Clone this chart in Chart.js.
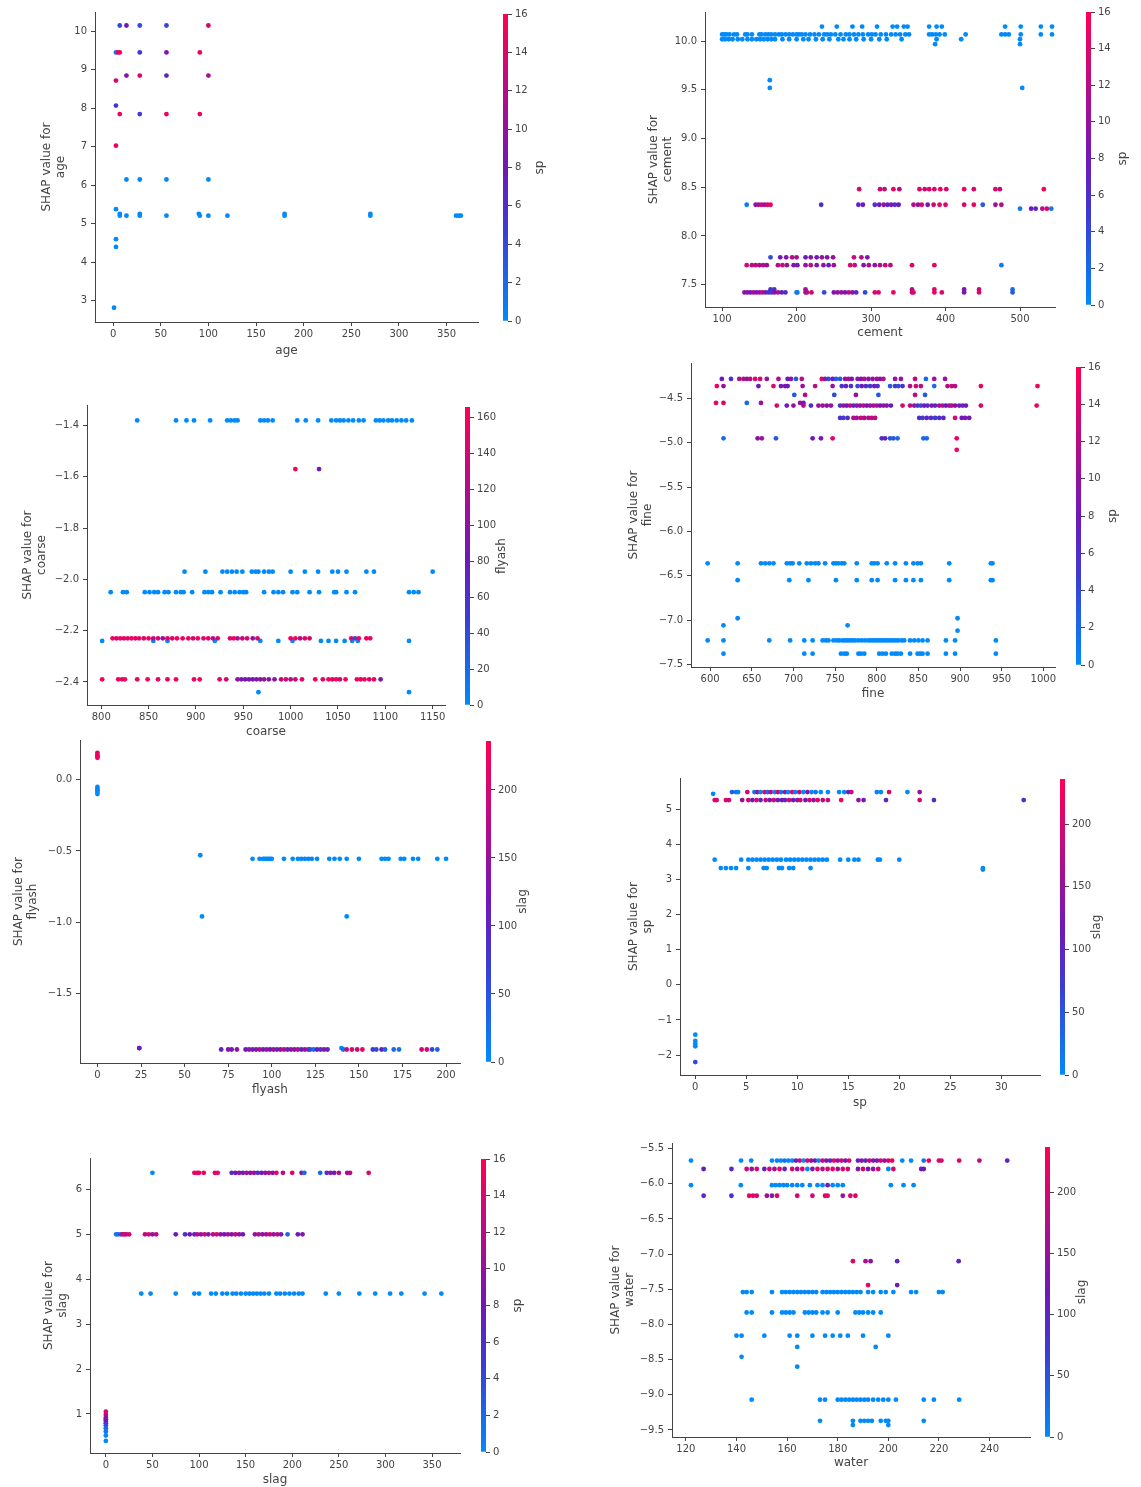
<!DOCTYPE html>
<html>
<head>
<meta charset="utf-8">
<script src="https://cdn.jsdelivr.net/npm/chart.js@4.4.0/dist/chart.umd.min.js"></script>
<style>
body { margin: 0; background: #fff; width: 1141px; height: 1487px; position: relative; overflow: hidden; }
canvas { position: absolute; }
</style>
</head>
<body>
<script>
// each row: [shap value, [feature values], colour value (one number or one per point)]
const ageRows = [
    [10.15, [7, 14, 28, 56, 100], [4, 8, 4, 4, 14]],
    [9.45, [3, 5, 7, 28, 56, 91], [1, 14, 15, 5, 9, 15]],
    [8.85, [14, 28, 56, 100], [9, 14, 7, 11]],
    [8.72, [3], 14],
    [8.07, [3], 5],
    [7.85, [7, 28, 56, 91], [15, 5, 15, 15]],
    [7.03, [3], 15],
    [6.15, [14, 28, 56, 100], 0],
    [5.38, [3], 0],
    [5.26, [7, 28, 90, 180, 270], 0],
    [5.21, [7, 14, 28, 56, 91, 100, 120, 180, 270, 360, 363, 365], 0],
    [4.6, [3], 0],
    [4.4, [3], 0],
    [2.82, [1], 0]
];

const cementRows = [
    [10.15, [234, 254, 275, 288, 308, 329, 335, 344, 349, 378, 388, 395, 480, 501, 528, 543], 0],
    [10.07, [100, 103, 106, 110, 116, 120, 131, 134, 140, 150, 153, 158, 162, 166, 171, 176, 180, 185, 190, 195, 200, 203, 207, 212, 218, 224, 230, 237, 241, 246, 252, 259, 266, 271, 277, 283, 289, 296, 301, 306, 313, 320, 327, 333, 339, 346, 351, 378, 382, 387, 392, 399, 427, 475, 480, 485, 501, 528, 543], 0],
    [10.02, [100, 104, 109, 114, 121, 127, 134, 140, 146, 151, 156, 161, 166, 171, 181, 190, 200, 209, 216, 226, 235, 244, 256, 263, 271, 280, 290, 300, 311, 321, 341, 388, 421, 500], 0],
    [9.97, [386, 500], 0],
    [9.6, [164], 0],
    [9.52, [164, 503], 0],
    [8.48, [284, 312, 318, 330, 338, 365, 372, 378, 385, 393, 401, 425, 438, 467, 473, 532], [14, 13, 13, 15, 12, 14, 13, 15, 14, 15, 14, 15, 14, 14, 13, 16]],
    [8.32, [133, 145, 149, 153, 157, 161, 165, 233, 283, 289, 305, 311, 317, 322, 327, 332, 337, 357, 363, 368, 376, 384, 392, 400, 425, 438, 450, 467, 475], [1, 9, 11, 13, 10, 14, 15, 6, 7, 8, 6, 8, 10, 7, 9, 6, 8, 12, 10, 14, 8, 13, 15, 14, 14, 15, 3, 10, 12]],
    [8.28, [500, 515, 521, 530, 536, 542], [1, 8, 7, 12, 14, 1]],
    [7.78, [165, 178, 186, 194, 200, 212, 219, 227, 234, 241, 249, 277, 287, 295], [4, 8, 9, 12, 11, 8, 9, 8, 10, 9, 10, 13, 12, 9]],
    [7.7, [133, 140, 145, 150, 155, 160, 175, 181, 187, 196, 201, 212, 219, 227, 236, 243, 250, 272, 278, 290, 297, 305, 312, 319, 326, 355, 385, 475], [14, 12, 13, 11, 12, 10, 12, 13, 11, 9, 8, 10, 12, 9, 10, 8, 11, 14, 13, 9, 11, 10, 12, 13, 12, 14, 15, 1]],
    [7.45, [165, 170, 212, 355, 385, 425, 445, 490], [5, 6, 11, 12, 14, 9, 13, 2]],
    [7.42, [130, 134, 138, 142, 146, 150, 154, 158, 162, 166, 170, 175, 180, 185, 200, 201, 212, 214, 220, 237, 250, 255, 260, 265, 270, 275, 280, 292, 305, 310, 330, 355, 357, 385, 395, 425, 445, 490], [9, 10, 8, 11, 9, 10, 12, 8, 6, 5, 9, 11, 7, 6, 2, 1, 10, 12, 13, 4, 9, 10, 11, 8, 12, 10, 6, 4, 14, 14, 15, 13, 14, 15, 14, 8, 14, 3]]
];

const coarseRows = [
    [-1.38, [838, 879, 890, 898, 915, 933, 937, 941, 944, 968, 972, 976, 981, 1007, 1016, 1029, 1043, 1048, 1052, 1056, 1061, 1066, 1072, 1077, 1090, 1094, 1098, 1103, 1107, 1112, 1117, 1122, 1128], 0],
    [-1.57, [1005, 1030], [160, 85]],
    [-1.97, [888, 910, 928, 933, 938, 943, 949, 959, 963, 966, 972, 977, 981, 1000, 1015, 1029, 1044, 1050, 1059, 1080, 1088, 1150], 0],
    [-2.05, [810, 823, 827, 846, 851, 856, 860, 867, 871, 879, 884, 887, 896, 909, 913, 917, 926, 936, 941, 946, 950, 953, 972, 982, 987, 992, 1002, 1007, 1020, 1030, 1046, 1048, 1059, 1068, 1125, 1130, 1135], 0],
    [-2.24, [801, 855, 870, 920, 968, 987, 1002, 1032, 1040, 1048, 1057, 1065, 1071, 1125], 0],
    [-2.23, [812, 816, 820, 824, 828, 832, 836, 840, 845, 850, 855, 860, 865, 870, 875, 880, 886, 892, 897, 902, 908, 913, 918, 923, 936, 940, 944, 949, 954, 960, 965, 1000, 1005, 1010, 1015, 1020, 1064, 1068, 1072, 1080, 1084], [155, 140, 158, 150, 145, 160, 150, 155, 140, 160, 120, 150, 100, 155, 145, 160, 150, 155, 140, 160, 145, 155, 120, 150, 145, 155, 120, 130, 150, 100, 155, 150, 160, 120, 150, 140, 150, 40, 160, 150, 155]],
    [-2.39, [801, 818, 822, 825, 838, 849, 860, 870, 879, 898, 904, 925, 932, 944, 948, 952, 956, 960, 964, 968, 972, 977, 983, 990, 995, 1000, 1005, 1012, 1026, 1034, 1040, 1044, 1048, 1052, 1058, 1070, 1074, 1078, 1083, 1088, 1095], [160, 155, 150, 160, 158, 160, 155, 150, 160, 155, 160, 150, 140, 100, 90, 85, 95, 80, 100, 90, 110, 95, 100, 130, 140, 125, 135, 150, 155, 150, 160, 150, 155, 140, 160, 155, 150, 160, 145, 155, 90]],
    [-2.44, [966, 1125], 0]
];

const fineRows = [
    [-4.28, [614, 625, 635, 640, 644, 648, 654, 660, 668, 682, 693, 697, 703, 710, 734, 738, 742, 747, 751, 756, 762, 766, 770, 777, 781, 785, 790, 795, 800, 804, 808, 822, 829, 846, 859, 869, 882], [8, 6, 11, 12, 10, 12, 14, 14, 10, 12, 8, 9, 3, 12, 14, 10, 4, 8, 3, 3, 10, 11, 9, 10, 8, 12, 9, 10, 11, 9, 12, 10, 10, 12, 2, 10, 10]],
    [-4.36, [608, 616, 658, 676, 685, 690, 693, 711, 726, 747, 758, 763, 769, 777, 782, 787, 792, 797, 801, 816, 822, 826, 831, 840, 847, 853, 869, 885, 890, 894, 925, 993], [15, 10, 8, 14, 8, 9, 8, 10, 12, 10, 6, 7, 6, 4, 8, 6, 5, 8, 6, 3, 5, 4, 6, 12, 13, 12, 2, 12, 13, 12, 15, 15]],
    [-4.46, [701, 714, 749, 775, 802, 846, 858], [3, 12, 4, 10, 3, 12, 3]],
    [-4.55, [607, 616, 644, 661, 708, 712], [15, 14, 2, 10, 10, 8]],
    [-4.58, [680, 692, 700, 712, 721, 730, 735, 740, 745, 756, 760, 764, 768, 772, 776, 780, 784, 788, 792, 796, 800, 804, 808, 812, 817, 831, 840, 845, 849, 853, 857, 861, 866, 870, 875, 879, 883, 887, 890, 894, 899, 903, 907, 925, 992], [14, 8, 10, 12, 6, 10, 11, 9, 10, 6, 10, 8, 12, 7, 10, 9, 12, 8, 10, 11, 12, 8, 10, 9, 7, 14, 12, 10, 5, 4, 8, 6, 9, 7, 10, 12, 8, 11, 12, 8, 9, 7, 8, 14, 15]],
    [-4.72, [756, 760, 765, 772, 776, 781, 785, 790, 794, 798, 851, 855, 860, 865, 870, 875, 880, 894, 902, 906, 911], [6, 5, 6, 12, 11, 13, 12, 11, 13, 12, 6, 5, 7, 6, 5, 6, 7, 14, 8, 9, 8]],
    [-4.95, [616, 657, 662, 679, 723, 733, 747, 806, 810, 816, 820, 825, 856, 860, 896], [2, 9, 11, 3, 8, 8, 14, 6, 7, 3, 3, 2, 2, 2, 15]],
    [-5.08, [896], 15],
    [-6.36, [597, 633, 661, 666, 671, 676, 692, 696, 699, 707, 716, 721, 726, 730, 738, 748, 751, 754, 758, 761, 776, 794, 797, 801, 812, 822, 835, 844, 849, 853, 887, 937, 939], 0],
    [-6.55, [633, 695, 718, 751, 776, 794, 801, 822, 835, 844, 853, 887, 937, 939], 0],
    [-6.98, [633, 897], 0],
    [-7.06, [616, 765], 0],
    [-7.12, [897], 0],
    [-7.23, [597, 616, 671, 696, 713, 723, 735, 739, 742, 748, 752, 755, 759, 762, 765, 768, 771, 774, 778, 782, 786, 790, 793, 796, 799, 802, 805, 808, 811, 814, 817, 820, 823, 826, 830, 833, 840, 845, 850, 855, 861, 883, 894, 943], 0],
    [-7.38, [616, 713, 723, 757, 761, 764, 778, 781, 785, 803, 807, 811, 818, 822, 825, 829, 840, 849, 852, 855, 861, 883, 894, 943], 0]
];

const flyashRows = [
    [0.19, [0], 220], [0.175, [0], 225], [0.165, [0], 210], [0.155, [0], 230],
    [-0.05, [0], 0], [-0.065, [0], 5], [-0.075, [0], 0], [-0.085, [0], 0], [-0.1, [0], 0],
    [-0.53, [59], 0],
    [-0.555, [89, 93, 95, 96, 97, 98, 99, 100, 107, 112, 115, 117, 119, 121, 123, 126, 133, 136, 139, 143, 150, 163, 165, 167, 174, 176, 181, 184, 195, 200], 0],
    [-0.96, [60, 143], 0],
    [-1.885, [24, 24, 140], [95, 110, 5]],
    [-1.895, [71, 75, 77, 80, 85, 87, 89, 91, 93, 95, 97, 99, 101, 103, 105, 107, 109, 111, 113, 115, 117, 119, 121, 122, 124, 126, 128, 130, 132, 141, 143, 146, 149, 152, 158, 160, 163, 165, 170, 173, 186, 189, 192, 195], [100, 140, 120, 150, 110, 160, 100, 130, 170, 110, 150, 120, 160, 100, 140, 180, 110, 150, 130, 170, 100, 140, 160, 60, 30, 120, 80, 140, 100, 20, 200, 210, 190, 220, 80, 60, 100, 40, 30, 20, 200, 210, 60, 40]]
];

const spRows = [
    [-1.42, [0], 0], [-1.6, [0], 0], [-1.68, [0], 0], [-1.75, [0], 0], [-2.2, [0], 60],
    [5.45, [1.75], 0],
    [5.5, [3.6, 4, 4.2, 5.1, 5.8, 6.1, 6.4, 6.8, 7.1, 7.4, 7.8, 8.1, 8.4, 8.8, 9.1, 9.5, 9.8, 10.2, 10.6, 11, 11.4, 11.8, 12.3, 13, 14.1, 14.6, 15, 15.3, 17.8, 18.2, 19, 20.8, 22], [40, 20, 10, 200, 20, 150, 0, 210, 30, 180, 0, 200, 20, 160, 0, 200, 10, 190, 0, 150, 0, 20, 0, 0, 0, 0, 100, 200, 10, 0, 210, 0, 150]],
    [5.27, [1.9, 2.1, 3, 3.3, 4.6, 5.2, 5.6, 6, 6.4, 6.9, 7.3, 7.7, 8.1, 8.5, 8.8, 9.2, 9.6, 10, 10.3, 10.8, 11.2, 11.6, 12, 12.5, 13, 14.3, 16, 16.5, 18.7, 22, 23.4, 32.2], [200, 210, 210, 200, 150, 200, 120, 210, 100, 190, 130, 200, 110, 120, 100, 200, 110, 140, 200, 120, 200, 150, 210, 180, 200, 220, 150, 120, 100, 200, 90, 90]],
    [3.57, [1.9, 4.5, 5.2, 5.6, 6, 6.4, 6.8, 7.2, 7.6, 8, 8.4, 8.9, 9.3, 9.7, 10.1, 10.5, 10.9, 11.3, 11.7, 12.1, 12.5, 12.9, 14.2, 15, 15.6, 16, 17.9, 18.1, 20], 0],
    [3.33, [2.5, 3, 3.5, 4, 5.2, 6.7, 7, 8.2, 8.5, 9.2, 9.6, 11.3, 28.2], 0],
    [3.29, [28.2], 0]
];

const slagRows = [
    [1.05, [0], 14], [0.98, [0], 12], [0.92, [0], 10], [0.88, [0], 9], [0.84, [0], 8], [0.79, [0], 6],
    [0.74, [0], 4], [0.68, [0], 2], [0.61, [0], 1], [0.52, [0], 0], [0.4, [0], 0],
    [6.37, [50, 95, 98, 100, 105, 117, 120, 135, 139, 143, 147, 151, 155, 159, 163, 167, 171, 175, 179, 183, 190, 200, 210, 213, 230, 237, 241, 245, 250, 259, 262, 282], [0, 15, 14, 15, 15, 14, 15, 6, 8, 10, 7, 12, 9, 11, 6, 8, 10, 12, 9, 14, 12, 14, 10, 2, 2, 6, 10, 8, 12, 10, 12, 14]],
    [5.0, [11, 13, 16, 18, 20, 22, 25, 42, 46, 50, 54, 75, 85, 90, 95, 98, 102, 106, 110, 115, 119, 123, 127, 131, 135, 139, 143, 147, 160, 164, 168, 172, 176, 180, 184, 188, 195, 206, 211], [1, 2, 3, 13, 14, 12, 14, 12, 14, 10, 12, 8, 6, 8, 7, 12, 10, 13, 9, 12, 14, 10, 8, 11, 9, 12, 10, 8, 10, 12, 9, 11, 13, 10, 12, 9, 2, 8, 9]],
    [3.68, [38, 48, 75, 95, 100, 113, 118, 125, 130, 136, 140, 145, 150, 154, 158, 162, 166, 170, 175, 183, 187, 192, 197, 202, 207, 211, 236, 250, 272, 289, 305, 317, 342, 360], 0]
];

const waterRows = [
    [-5.67, [122, 141.8, 145.8, 154, 156, 157.5, 159, 160.5, 162, 163.5, 165, 166.5, 168, 169.5, 171, 172.5, 174, 175.5, 177, 178.5, 180, 181.5, 183, 184.5, 188, 189.5, 191, 192.5, 194, 195.5, 197, 198.5, 200, 201.5, 205.5, 209, 214, 216, 220, 221, 228, 236, 247], [0, 0, 0, 0, 10, 0, 20, 5, 0, 100, 200, 0, 210, 150, 120, 0, 200, 130, 100, 210, 150, 200, 120, 210, 110, 140, 100, 200, 130, 120, 210, 150, 200, 220, 0, 0, 20, 220, 200, 210, 210, 180, 100]],
    [-5.79, [127, 138, 144, 146, 148, 151, 153, 155, 157, 159, 162, 164, 166, 168, 170, 172, 174, 176, 178, 180, 182, 184, 188, 190, 192, 194, 196, 200, 202, 213, 214], [110, 100, 200, 150, 210, 120, 200, 150, 220, 100, 200, 150, 210, 0, 130, 210, 180, 200, 220, 150, 210, 200, 130, 200, 120, 150, 200, 0, 210, 110, 120]],
    [-6.02, [122, 141.7, 154, 155.5, 157, 158.5, 160, 162, 164, 166, 169, 172, 174, 176, 178, 180, 182, 201, 206, 210], [0, 0, 0, 0, 0, 0, 0, 0, 0, 0, 0, 0, 0, 130, 0, 0, 0, 0, 0, 0]],
    [-6.17, [127, 138, 145, 146.5, 148, 152, 154, 156, 164, 170, 175, 176, 182, 185, 187], [100, 90, 220, 210, 200, 150, 140, 210, 200, 200, 210, 220, 150, 200, 210]],
    [-7.1, [186, 191, 193, 203.5, 227.8], [210, 170, 140, 100, 100]],
    [-7.44, [192, 203.5], [220, 110]],
    [-7.54, [142.5, 144, 146, 154, 158, 159.5, 161, 162.5, 164, 165.5, 167, 168.5, 170, 171.5, 174, 175.5, 177, 178.5, 180, 181.5, 183, 184.5, 186, 187.5, 189, 192, 194, 197, 199, 202, 209, 211, 220, 221.5], 0],
    [-7.83, [144, 146, 154, 158, 159.5, 161, 162.5, 167, 168.5, 170, 171.5, 174, 176, 180, 187, 188.5, 190, 192, 194, 197], 0],
    [-8.16, [140, 142, 151, 161, 164, 170, 175, 178, 181, 184, 190, 200], 0],
    [-8.32, [164, 195], 0],
    [-8.46, [142], 0],
    [-8.6, [164], 0],
    [-9.07, [146, 173, 175, 180, 181.5, 183, 184.5, 186, 187.5, 189, 190.5, 192, 194, 196, 198, 200, 203, 214, 218, 228], 0],
    [-9.37, [173, 186, 189, 190.5, 192, 193.5, 197, 199, 200, 214], 0],
    [-9.43, [186, 200], 0]
];

// tick labels
const ageXTicks = [0, 50, 100, 150, 200, 250, 300, 350];
const ageYTicks = [3, 4, 5, 6, 7, 8, 9, 10];
const cementXTicks = [100, 200, 300, 400, 500];
const cementYTicks = [7.5, 8.0, 8.5, 9.0, 9.5, 10.0];
const coarseXTicks = [800, 850, 900, 950, 1000, 1050, 1100, 1150];
const coarseYTicks = [-2.4, -2.2, -2.0, -1.8, -1.6, -1.4];
const fineXTicks = [600, 650, 700, 750, 800, 850, 900, 950, 1000];
const fineYTicks = [-7.5, -7.0, -6.5, -6.0, -5.5, -5.0, -4.5];
const flyashXTicks = [0, 25, 50, 75, 100, 125, 150, 175, 200];
const flyashYTicks = [-1.5, -1.0, -0.5, 0.0];
const spXTicks = [0, 5, 10, 15, 20, 25, 30];
const spYTicks = [-2, -1, 0, 1, 2, 3, 4, 5];
const slagXTicks = [0, 50, 100, 150, 200, 250, 300, 350];
const slagYTicks = [1, 2, 3, 4, 5, 6];
const waterXTicks = [120, 140, 160, 180, 200, 220, 240];
const waterYTicks = [-9.5, -9.0, -8.5, -8.0, -7.5, -7.0, -6.5, -6.0, -5.5];
const spBarTicks = [0, 2, 4, 6, 8, 10, 12, 14, 16];
const flyashBarTicks = [0, 20, 40, 60, 80, 100, 120, 140, 160];
const slagBarTicks = [0, 50, 100, 150, 200];

const TEXT = "#444";
const FONT = "DejaVu Sans";

// shap red_blue colour map (darker purple in the middle)
function shapColor(t) {
    t = Math.max(0, Math.min(1, t));
    const stops = [[0, [0, 138, 250]], [0.3, [60, 60, 210]], [0.5, [112, 24, 184]], [1, [255, 0, 82]]];
    let i = 0;
    while (i < stops.length - 2 && t > stops[i + 1][0]) i++;
    const [t0, c0] = stops[i];
    const [t1, c1] = stops[i + 1];
    const f = (t - t0) / (t1 - t0);
    const c = c0.map((v, k) => Math.round(v + (c1[k] - v) * f));
    return "rgb(" + c.join(",") + ")";
}

function fmt(v, dec) {
    return v.toFixed(dec).replace("-", "\u2212");
}

function makeCanvas(left, top, w, h) {
    const cv = document.createElement("canvas");
    cv.width = w;
    cv.height = h;
    cv.style.left = left + "px";
    cv.style.top = top + "px";
    cv.style.width = w + "px";
    cv.style.height = h + "px";
    document.body.appendChild(cv);
    return cv;
}

// rotated colour bar label, reading bottom to top like matplotlib
const barLabel = {
    id: "barLabel",
    afterDraw(chart, args, opts) {
        const { ctx, chartArea } = chart;
        ctx.save();
        ctx.translate(chartArea.left + opts.offset, (chartArea.top + chartArea.bottom) / 2);
        ctx.rotate(-Math.PI / 2);
        ctx.fillStyle = TEXT;
        ctx.font = "12px '" + FONT + "'";
        ctx.textAlign = "center";
        ctx.textBaseline = "middle";
        ctx.fillText(opts.text, 0, 0);
        ctx.restore();
    }
};

const PANELS = [
    { name: "age", rows: ageRows, xTicks: ageXTicks, yTicks: ageYTicks, xMin: -19, xMax: 383, yMin: 2.45, yMax: 10.5, yDec: 0,
      box: { l: 95, r: 478, t: 12, b: 322 }, yW: 55, xH: 36,
      cName: "sp", cMax: 16, cTicks: spBarTicks, cb: { x: 503, t: 14, b: 321 } },
    { name: "cement", rows: cementRows, xTicks: cementXTicks, yTicks: cementYTicks, xMin: 77, xMax: 547, yMin: 7.27, yMax: 10.3, yDec: 1,
      box: { l: 705, r: 1055, t: 12, b: 307 }, yW: 58, xH: 33,
      cName: "sp", cMax: 16, cTicks: spBarTicks, cb: { x: 1086, t: 12, b: 305 } },
    { name: "coarse", rows: coarseRows, xTicks: coarseXTicks, yTicks: coarseYTicks, xMin: 785, xMax: 1163, yMin: -2.49, yMax: -1.32, yDec: 1,
      box: { l: 87, r: 445, t: 405, b: 705 }, yW: 66, xH: 34,
      cName: "flyash", cMax: 166, cTicks: flyashBarTicks, cb: { x: 465, t: 407, b: 705 } },
    { name: "fine", rows: fineRows, xTicks: fineXTicks, yTicks: fineYTicks, xMin: 577, xMax: 1014, yMin: -7.53, yMax: -4.1, yDec: 1,
      box: { l: 691, r: 1055, t: 363, b: 667 }, yW: 64, xH: 34,
      cName: "sp", cMax: 16, cTicks: spBarTicks, cb: { x: 1076, t: 367, b: 665 } },
    { name: "flyash", rows: flyashRows, xTicks: flyashXTicks, yTicks: flyashYTicks, xMin: -10, xMax: 208, yMin: -1.99, yMax: 0.28, yDec: 1,
      box: { l: 80, r: 460, t: 740, b: 1063 }, yW: 68, xH: 34,
      cName: "slag", cMax: 236, cTicks: slagBarTicks, cb: { x: 486, t: 741, b: 1062 } },
    { name: "sp", rows: spRows, xTicks: spXTicks, yTicks: spYTicks, xMin: -1.5, xMax: 33.8, yMin: -2.57, yMax: 5.9, yDec: 0,
      box: { l: 680, r: 1040, t: 778, b: 1075 }, yW: 53, xH: 35,
      cName: "slag", cMax: 236, cTicks: slagBarTicks, cb: { x: 1060, t: 779, b: 1075 } },
    { name: "slag", rows: slagRows, xTicks: slagXTicks, yTicks: slagYTicks, xMin: -17, xMax: 380, yMin: 0.13, yMax: 6.7, yDec: 0,
      box: { l: 90, r: 460, t: 1158, b: 1453 }, yW: 48, xH: 34,
      cName: "sp", cMax: 16, cTicks: spBarTicks, cb: { x: 481, t: 1159, b: 1452 } },
    { name: "water", rows: waterRows, xTicks: waterXTicks, yTicks: waterYTicks, xMin: 114.5, xMax: 256, yMin: -9.6, yMax: -5.42, yDec: 1,
      box: { l: 672, r: 1030, t: 1143, b: 1437 }, yW: 63, xH: 33,
      cName: "slag", cMax: 237, cTicks: slagBarTicks, cb: { x: 1045, t: 1147, b: 1437 } }
];

function axisStyle() {
    return {
        grid: { display: true, drawOnChartArea: false, drawTicks: true, tickLength: 4, color: TEXT },
        border: { display: true, color: TEXT, width: 1 }
    };
}

function drawPanel(p) {
    const pad = 10;
    const left = p.box.l - p.yW;
    const top = p.box.t - pad;
    const w = p.box.r - left + pad;
    const h = p.box.b - top + p.xH;
    const cv = makeCanvas(left, top, w, h);

    const pts = [];
    const cols = [];
    p.rows.forEach(([y, xs, c]) => {
        xs.forEach((x, i) => {
            pts.push({ x: x, y: y });
            cols.push(shapColor((Array.isArray(c) ? c[i] : c) / p.cMax));
        });
    });

    new Chart(cv, {
        type: "scatter",
        data: {
            datasets: [{
                data: pts,
                pointBackgroundColor: cols,
                pointBorderWidth: 0,
                pointRadius: 2.4,
                showLine: false
            }]
        },
        options: {
            responsive: false,
            animation: false,
            devicePixelRatio: 1,
            layout: { padding: { top: pad, right: pad, left: 0, bottom: 0 } },
            plugins: { legend: { display: false }, tooltip: { enabled: false } },
            scales: {
                x: {
                    type: "linear", min: p.xMin, max: p.xMax,
                    ...axisStyle(),
                    afterBuildTicks: (s) => { s.ticks = p.xTicks.map(v => ({ value: v })); },
                    afterFit: (s) => { s.height = p.xH; },
                    ticks: { color: TEXT, font: { family: FONT, size: 10 }, padding: 2, maxRotation: 0,
                             callback: (v) => fmt(v, 0) },
                    title: { display: true, text: p.name, color: TEXT, font: { family: FONT, size: 12 },
                             padding: { top: 1, bottom: 0 } }
                },
                y: {
                    type: "linear", min: p.yMin, max: p.yMax,
                    ...axisStyle(),
                    afterBuildTicks: (s) => { s.ticks = p.yTicks.map(v => ({ value: v })); },
                    afterFit: (s) => { s.width = p.yW; },
                    ticks: { color: TEXT, font: { family: FONT, size: 10 }, padding: 4,
                             callback: (v) => fmt(v, p.yDec) },
                    title: { display: true, text: ["SHAP value for", p.name], color: TEXT,
                             font: { family: FONT, size: 12, lineHeight: 1.15 }, padding: 0 }
                }
            }
        }
    });

    // colour bar
    const cbW = 70;
    const bar = makeCanvas(p.cb.x, p.cb.t - pad, cbW, p.cb.b - p.cb.t + 2 * pad);
    new Chart(bar, {
        type: "bar",
        data: {
            labels: [""],
            datasets: [{
                data: [[0, p.cMax]],
                borderWidth: 0,
                barPercentage: 1,
                categoryPercentage: 1,
                backgroundColor: (ctx) => {
                    const area = ctx.chart.chartArea;
                    if (!area) return "#888";
                    const g = ctx.chart.ctx.createLinearGradient(0, area.bottom, 0, area.top);
                    [0, 0.1, 0.2, 0.3, 0.4, 0.5, 0.6, 0.7, 0.8, 0.9, 1].forEach(t => g.addColorStop(t, shapColor(t)));
                    return g;
                }
            }]
        },
        options: {
            responsive: false,
            animation: false,
            devicePixelRatio: 1,
            layout: { padding: { top: pad, bottom: pad, left: 0, right: 0 } },
            plugins: { legend: { display: false }, tooltip: { enabled: false },
                       barLabel: { text: p.cName, offset: 37 } },
            scales: {
                x: { display: false },
                y: {
                    position: "right", min: 0, max: p.cMax,
                    grid: { display: true, drawOnChartArea: false, drawTicks: true, tickLength: 4, color: TEXT },
                    border: { display: false },
                    afterBuildTicks: (s) => { s.ticks = p.cTicks.map(v => ({ value: v })); },
                    afterFit: (s) => { s.width = cbW - 5; },
                    ticks: { color: TEXT, font: { family: FONT, size: 10 }, padding: 3 }
                }
            }
        },
        plugins: [barLabel]
    });
}

PANELS.forEach(drawPanel);
</script>
</body>
</html>
